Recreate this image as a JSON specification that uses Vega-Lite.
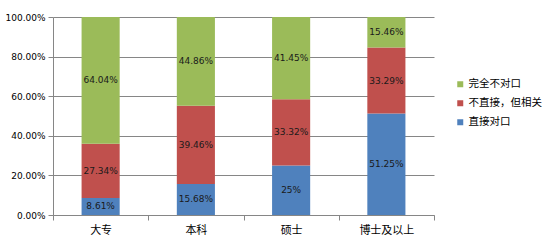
{
  "$schema": "https://vega.github.io/schema/vega-lite/v6.json",
  "autosize": "none",
  "width": 381,
  "height": 198,
  "padding": {"left": 53, "top": 17, "right": 112, "bottom": 26},
  "background": "white",
  "config": {"view": {"stroke": null}},
  "data": {
    "values": [
      {"cat": "大专", "series": "直接对口", "order": 1, "value": 8.61},
      {"cat": "大专", "series": "不直接，但相关", "order": 2, "value": 27.34},
      {"cat": "大专", "series": "完全不对口", "order": 3, "value": 64.04},
      {"cat": "本科", "series": "直接对口", "order": 1, "value": 15.68},
      {"cat": "本科", "series": "不直接，但相关", "order": 2, "value": 39.46},
      {"cat": "本科", "series": "完全不对口", "order": 3, "value": 44.86},
      {"cat": "硕士", "series": "直接对口", "order": 1, "value": 25},
      {"cat": "硕士", "series": "不直接，但相关", "order": 2, "value": 33.32},
      {"cat": "硕士", "series": "完全不对口", "order": 3, "value": 41.45},
      {"cat": "博士及以上", "series": "直接对口", "order": 1, "value": 51.25},
      {"cat": "博士及以上", "series": "不直接，但相关", "order": 2, "value": 33.29},
      {"cat": "博士及以上", "series": "完全不对口", "order": 3, "value": 15.46}
    ]
  },
  "transform": [
    {"stack": "value", "groupby": ["cat"], "sort": [{"field": "order", "order": "ascending"}], "offset": "normalize", "as": ["y0", "y1"]},
    {"calculate": "(datum.y0 + datum.y1) / 2", "as": "ymid"},
    {"calculate": "format(datum.value, '.2~f') + '%'", "as": "label"}
  ],
  "encoding": {
    "x": {
      "field": "cat", "type": "nominal", "sort": ["大专", "本科", "硕士", "博士及以上"],
      "scale": {"paddingInner": 0, "paddingOuter": 0},
      "axis": {
        "title": null, "labelAngle": 0, "tickBand": "extent",
        "domainColor": "#868686", "tickColor": "#868686", "tickSize": 5,
        "labelFont": "Noto Sans CJK SC", "labelFontSize": 11, "labelColor": "#000000", "labelPadding": 4
      }
    }
  },
  "layer": [
    {
      "mark": {"type": "bar", "width": {"band": 0.4}},
      "encoding": {
        "y": {
          "field": "y0", "type": "quantitative",
          "scale": {"domain": [0, 1], "nice": false, "zero": true},
          "axis": {
            "title": null, "values": [0, 0.2, 0.4, 0.6, 0.8, 1], "format": ".2%",
            "labelOverlap": false, "labelBound": false, "labelFlush": false,
            "grid": true, "gridColor": "#868686", "domainColor": "#868686", "tickColor": "#868686", "tickSize": 5,
            "labelFont": "DejaVu Sans", "labelFontSize": 9, "labelColor": "#000000", "labelPadding": 3
          }
        },
        "y2": {"field": "y1"},
        "color": {
          "field": "series", "type": "nominal",
          "scale": {"domain": ["完全不对口", "不直接，但相关", "直接对口"], "range": ["#9BBB59", "#C0504D", "#4F81BD"]},
          "legend": {
            "title": null, "orient": "none", "legendX": 402, "legendY": 62, "padding": 0,
            "symbolType": "square", "symbolSize": 36, "symbolStrokeWidth": 0,
            "labelFont": "Noto Sans CJK SC", "labelFontSize": 10.5, "labelColor": "#000000",
            "labelOffset": 3, "rowPadding": 8
          }
        }
      }
    },
    {
      "mark": {"type": "text", "font": "DejaVu Sans", "fontSize": 9, "color": "#1a1a1a", "baseline": "middle"},
      "encoding": {
        "y": {
          "field": "ymid", "type": "quantitative",
          "scale": {"domain": [0, 1], "nice": false, "zero": true},
          "axis": {
            "title": null, "values": [0, 0.2, 0.4, 0.6, 0.8, 1], "format": ".2%",
            "labelOverlap": false, "labelBound": false, "labelFlush": false,
            "grid": true, "gridColor": "#868686", "domainColor": "#868686", "tickColor": "#868686", "tickSize": 5,
            "labelFont": "DejaVu Sans", "labelFontSize": 9, "labelColor": "#000000", "labelPadding": 3
          }
        },
        "text": {"field": "label"}
      }
    }
  ]
}
